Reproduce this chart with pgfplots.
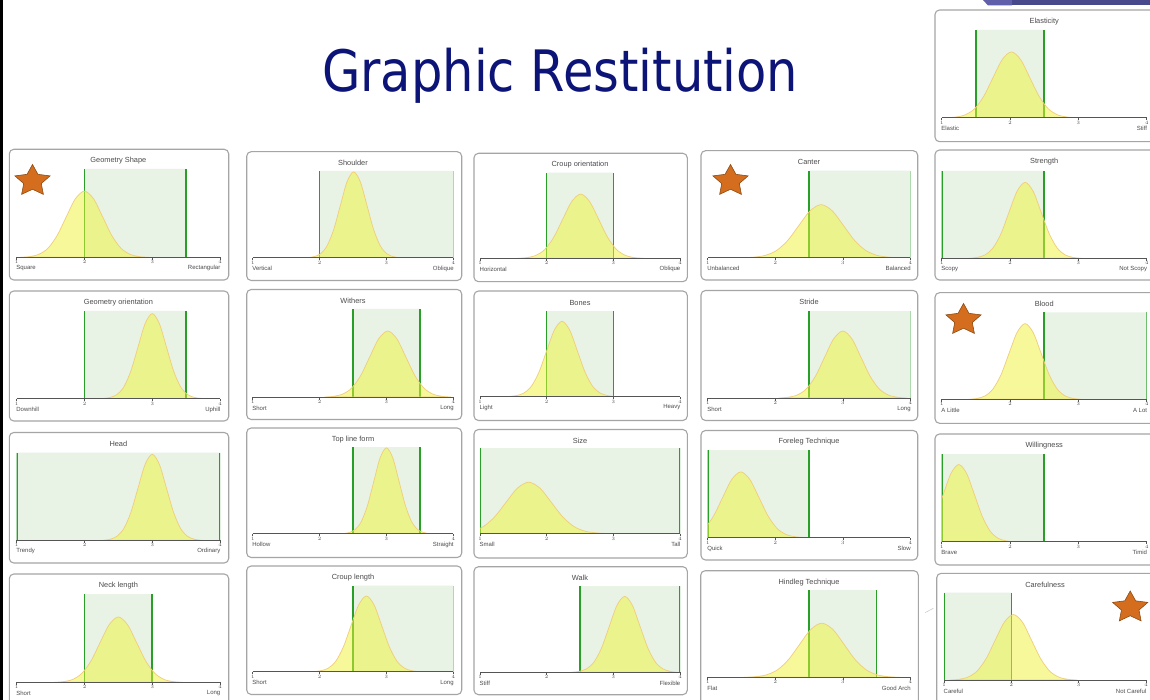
\documentclass[border=0pt]{standalone}
\usepackage{fontspec}
\setmainfont{Liberation Sans}
\newfontfamily\titlefont{DejaVu Sans}
\usepackage{graphicx}
\usepackage{pgfplots}
\pgfplotsset{compat=1.18}
\usetikzlibrary{shapes.geometric}

\definecolor{gshade}{RGB}{232,243,230}
\definecolor{gline}{RGB}{40,160,40}
\definecolor{yfill}{RGB}{239,243,53}
\definecolor{yedge}{RGB}{240,205,120}
\definecolor{navy}{RGB}{12,20,120}
\definecolor{txt}{RGB}{75,75,75}
\definecolor{axc}{RGB}{85,85,85}
\definecolor{boxc}{RGB}{165,165,165}
\definecolor{starf}{RGB}{212,110,30}
\definecolor{stard}{RGB}{140,75,20}
\definecolor{navyA}{RGB}{95,95,170}
\definecolor{navyB}{RGB}{72,72,140}

\pgfplotsset{panel/.style={scale only axis, anchor=south west,
  xmin=1, xmax=4, ymin=0, ymax=1,
  axis x line*=bottom, axis y line=none,
  xtick={1,2,3,4}, ytick=\empty,
  tick align=outside, major tick length=2.5pt,
  x axis line style={draw=axc, line width=0.9pt},
  xtick style={draw=axc, line width=0.5pt},
  xticklabel style={font=\fontsize{3.6}{4}\selectfont, text=txt, inner sep=0.6pt},
  axis on top}}

\newcommand{\band}[2]{%
  \addplot[fill=gshade, draw=none] coordinates {(#1,0) (#1,1) (#2,1) (#2,0)} \closedcycle;
  \addplot[gline, line width=1.6pt] coordinates {(#1,0) (#1,1)};
  \addplot[gline, line width=1.6pt] coordinates {(#2,0) (#2,1)};}
\newcommand{\bell}[1]{\addplot[smooth, fill=yfill, fill opacity=0.5, draw=yedge, line width=0.7pt] coordinates {#1} \closedcycle;}

\newcommand{\pframe}[4]{\draw[boxc, line width=1.1pt, rounded corners=4.5pt, fill=white] (#1,#2) rectangle (#3,#4);}
\newcommand{\plabels}[7]{%
  \node[font=\fontsize{7.4}{8}\selectfont, text=txt] at ({(#1+#2)/2},#4+11.5) {#5};
  \node[font=\fontsize{6}{7}\selectfont, text=txt, anchor=west, inner sep=0pt] at (#1-0.5,#3+11) {#6};
  \node[font=\fontsize{6}{7}\selectfont, text=txt, anchor=east, inner sep=0pt] at (#2+0.5,#3+11) {#7};}
\newcommand{\pstar}[2]{\node[star, star points=5, star point ratio=2.0, minimum size=33pt, inner sep=0pt, xscale=1.12, fill=starf, draw=stard, line width=0.6pt] at (#1,#2) {};}

\begin{document}
\begin{tikzpicture}
\path[use as bounding box] (0pt,0pt) rectangle (1150pt,-700pt);
\begin{scope}[x=1pt,y=-1pt]
\fill[white] (0,0) rectangle (1150,700);
\fill[black] (0,0) rectangle (3.2,700);
\fill[navyA] (983,0) -- (1012,0) -- (1012,5.5) -- (988,5.5) -- cycle;
\fill[navyB] (1012,0) rectangle (1150,5.5);
\node[anchor=base west, inner sep=0pt, text=navy] at (322,91.7) {\resizebox{476pt}{43.4pt}{\titlefont Graphic Restitution}};
\draw[gray!45, line width=0.5pt] (925,612.7) -- (933.3,608.3);
\pframe{9.3}{149.3}{228.7}{280}
\pframe{9.3}{291}{228.7}{421}
\pframe{9.3}{432.5}{228.7}{563}
\pframe{9.3}{574}{228.7}{710}
\pframe{246.7}{151.7}{461.7}{280.5}
\pframe{246.7}{289.5}{461.7}{419.5}
\pframe{246.7}{428}{461.7}{557.5}
\pframe{246.7}{566}{461.7}{694.5}
\pframe{474}{153.3}{687.3}{281.7}
\pframe{474}{291}{687.3}{420.5}
\pframe{474}{429.5}{687.3}{558}
\pframe{474}{566.7}{687.3}{694.7}
\pframe{701}{150.7}{917.7}{280}
\pframe{701}{290.5}{917.7}{420.5}
\pframe{701}{430.5}{917.7}{560}
\pframe{700.7}{570.7}{918.3}{710}
\pframe{935}{10}{1160}{141.7}
\pframe{935}{150}{1160}{280}
\pframe{935}{292.7}{1160}{423.3}
\pframe{935}{434}{1160}{565}
\pframe{936.7}{573.3}{1160}{710}
\end{scope}

% ---- column 1
\begin{axis}[panel, at={(16.7pt,-257.3pt)}, width=203.3pt, height=88.3pt]
\band{2}{3.5}
\bell{(1.055,0)(1.19,.008)(1.325,.033)(1.46,.101)(1.595,.244)(1.73,.455)(1.865,.662)(2.0,.75)(2.135,.662)(2.27,.455)(2.405,.244)(2.54,.101)(2.675,.033)(2.81,.008)(2.945,0)}
\end{axis}
\begin{axis}[panel, at={(16.7pt,-398.5pt)}, width=203.3pt, height=87.5pt]
\band{2}{3.5}
\bell{(2.265,0)(2.37,.011)(2.475,.043)(2.58,.131)(2.685,.315)(2.79,.588)(2.895,.856)(3.0,.97)(3.105,.856)(3.21,.588)(3.315,.315)(3.42,.131)(3.525,.043)(3.63,.011)(3.735,0)}
\end{axis}
\begin{axis}[panel, at={(16.7pt,-540.3pt)}, width=203.3pt, height=87.8pt]
\band{1}{4}
\bell{(2.265,0)(2.37,.011)(2.475,.043)(2.58,.133)(2.685,.318)(2.79,.594)(2.895,.865)(3.0,.98)(3.105,.865)(3.21,.594)(3.315,.318)(3.42,.133)(3.525,.043)(3.63,.011)(3.735,0)}
\end{axis}
\begin{axis}[panel, at={(16.7pt,-682.3pt)}, width=203.3pt, height=88.3pt]
\band{2}{3}
\bell{(1.555,0)(1.69,.008)(1.825,.032)(1.96,.100)(2.095,.240)(2.23,.449)(2.365,.653)(2.5,.74)(2.635,.653)(2.77,.449)(2.905,.240)(3.04,.100)(3.175,.032)(3.31,.008)(3.445,0)}
\end{axis}
% ---- column 2
\begin{axis}[panel, at={(252.7pt,-257.7pt)}, width=200.6pt, height=86.7pt]
\band{2}{4}
\bell{(1.81,0)(1.91,.011)(2.01,.043)(2.11,.134)(2.21,.321)(2.31,.600)(2.41,.874)(2.51,.99)(2.61,.874)(2.71,.600)(2.81,.321)(2.91,.134)(3.01,.043)(3.11,.011)(3.21,0)}
\end{axis}
\begin{axis}[panel, at={(252.7pt,-397pt)}, width=200.6pt, height=88pt]
\band{2.5}{3.5}
\bell{(2.075,0)(2.21,.008)(2.345,.033)(2.48,.101)(2.615,.244)(2.75,.455)(2.885,.662)(3.02,.75)(3.155,.662)(3.29,.455)(3.425,.244)(3.56,.101)(3.695,.033)(3.83,.008)(3.965,0)}
\end{axis}
\begin{axis}[panel, at={(252.7pt,-533.7pt)}, width=200.6pt, height=86.7pt]
\band{2.5}{3.5}
\bell{(2.335,0)(2.43,.011)(2.525,.043)(2.62,.134)(2.715,.321)(2.81,.600)(2.905,.874)(3.0,.99)(3.095,.874)(3.19,.600)(3.285,.321)(3.38,.134)(3.475,.043)(3.57,.011)(3.665,0)}
\end{axis}
\begin{axis}[panel, at={(252.7pt,-671.7pt)}, width=200.6pt, height=86pt]
\band{2.5}{4}
\bell{(1.895,0)(2.01,.010)(2.125,.039)(2.24,.119)(2.355,.286)(2.47,.534)(2.585,.777)(2.7,.88)(2.815,.777)(2.93,.534)(3.045,.286)(3.16,.119)(3.275,.039)(3.39,.010)(3.505,0)}
\end{axis}
% ---- column 3
\begin{axis}[panel, at={(480pt,-258.3pt)}, width=200pt, height=85.6pt]
\band{2}{3}
\bell{(1.565,0)(1.70,.008)(1.835,.033)(1.97,.101)(2.105,.244)(2.24,.455)(2.375,.662)(2.51,.75)(2.645,.662)(2.78,.455)(2.915,.244)(3.05,.101)(3.185,.033)(3.32,.008)(3.455,0)}
\end{axis}
\begin{axis}[panel, at={(480pt,-396.5pt)}, width=200pt, height=85.5pt]
\band{2}{3}
\bell{(1.425,0)(1.54,.010)(1.655,.039)(1.77,.119)(1.885,.286)(2.0,.534)(2.115,.777)(2.23,.88)(2.345,.777)(2.46,.534)(2.575,.286)(2.69,.119)(2.805,.039)(2.92,.010)(3.035,0)}
\end{axis}
\begin{axis}[panel, at={(480pt,-533.5pt)}, width=200pt, height=85.5pt]
\band{1}{4}
\bell{(0.54,0)(0.71,.007)(0.88,.026)(1.05,.081)(1.22,.195)(1.39,.364)(1.56,.530)(1.73,.60)(1.90,.530)(2.07,.364)(2.24,.195)(2.41,.081)(2.58,.026)(2.75,.007)(2.92,0)}
\end{axis}
\begin{axis}[panel, at={(480pt,-672.3pt)}, width=200pt, height=86.3pt]
\band{2.5}{4}
\bell{(2.365,0)(2.48,.010)(2.595,.039)(2.71,.119)(2.825,.286)(2.94,.534)(3.055,.777)(3.17,.88)(3.285,.777)(3.40,.534)(3.515,.286)(3.63,.119)(3.745,.039)(3.86,.010)(3.975,0)}
\end{axis}
% ---- column 4
\begin{axis}[panel, at={(707.7pt,-257.7pt)}, width=202.6pt, height=87pt]
\band{2.5}{4}
\bell{(1.525,0)(1.69,.007)(1.855,.027)(2.02,.083)(2.185,.198)(2.35,.370)(2.515,.538)(2.68,.61)(2.845,.538)(3.01,.370)(3.175,.198)(3.34,.083)(3.505,.027)(3.67,.007)(3.835,0)}
\end{axis}
\begin{axis}[panel, at={(707.7pt,-398pt)}, width=202.6pt, height=87pt]
\band{2.5}{4}
\bell{(2.055,0)(2.19,.009)(2.325,.034)(2.46,.104)(2.595,.250)(2.73,.467)(2.865,.680)(3.0,.77)(3.135,.680)(3.27,.467)(3.405,.250)(3.54,.104)(3.675,.034)(3.81,.009)(3.945,0)}
\end{axis}
\begin{axis}[panel, at={(707.7pt,-537.5pt)}, width=202.6pt, height=87.5pt]
\band{1}{2.5}
\bell{(0.545,0)(0.68,.008)(0.815,.033)(0.95,.101)(1.085,.244)(1.22,.455)(1.355,.662)(1.49,.75)(1.625,.662)(1.76,.455)(1.895,.244)(2.03,.101)(2.165,.033)(2.30,.008)(2.435,0)}
\end{axis}
\begin{axis}[panel, at={(707.7pt,-677.3pt)}, width=202.6pt, height=87.3pt]
\band{2.5}{3.5}
\bell{(1.535,0)(1.70,.007)(1.865,.027)(2.03,.084)(2.195,.201)(2.36,.376)(2.525,.547)(2.69,.62)(2.855,.547)(3.02,.376)(3.185,.201)(3.35,.084)(3.515,.027)(3.68,.007)(3.845,0)}
\end{axis}
% ---- column 5
\begin{axis}[panel, at={(941.7pt,-117.7pt)}, width=205pt, height=87.7pt]
\band{1.5}{2.5}
\bell{(1.075,0)(1.21,.008)(1.345,.033)(1.48,.101)(1.615,.244)(1.75,.455)(1.885,.662)(2.02,.75)(2.155,.662)(2.29,.455)(2.425,.244)(2.56,.101)(2.695,.033)(2.83,.008)(2.965,0)}
\end{axis}
\begin{axis}[panel, at={(941.7pt,-258.3pt)}, width=205pt, height=87.3pt]
\band{1}{2.5}
\bell{(1.398,0)(1.515,.010)(1.633,.038)(1.75,.118)(1.868,.282)(1.985,.528)(2.103,.768)(2.22,.87)(2.338,.768)(2.455,.528)(2.573,.282)(2.69,.118)(2.808,.038)(2.925,.010)(3.043,0)}
\end{axis}
\begin{axis}[panel, at={(941.7pt,-399.3pt)}, width=205pt, height=87pt]
\band{2.5}{4}
\bell{(1.398,0)(1.515,.010)(1.633,.038)(1.75,.118)(1.868,.282)(1.985,.528)(2.103,.768)(2.22,.87)(2.338,.768)(2.455,.528)(2.573,.282)(2.69,.118)(2.808,.038)(2.925,.010)(3.043,0)}
\end{axis}
\begin{axis}[panel, at={(941.7pt,-541.7pt)}, width=205pt, height=87.7pt]
\band{1}{2.5}
\bell{(0.445,0)(0.56,.010)(0.675,.039)(0.79,.119)(0.905,.286)(1.02,.534)(1.135,.777)(1.25,.88)(1.365,.777)(1.48,.534)(1.595,.286)(1.71,.119)(1.825,.039)(1.94,.010)(2.055,0)}
\end{axis}
\begin{axis}[panel, at={(944pt,-680pt)}, width=202pt, height=87.3pt]
\band{1}{2}
\bell{(1.085,0)(1.22,.008)(1.355,.033)(1.49,.101)(1.625,.244)(1.76,.455)(1.895,.662)(2.03,.75)(2.165,.662)(2.30,.455)(2.435,.244)(2.57,.101)(2.705,.033)(2.84,.008)(2.975,0)}
\end{axis}

\begin{scope}[x=1pt,y=-1pt]
\plabels{16.7}{220}{257.3}{149.3}{Geometry Shape}{Square}{Rectangular}
\plabels{16.7}{220}{398.5}{291}{Geometry orientation}{Downhill}{Uphill}
\plabels{16.7}{220}{540.3}{432.5}{Head}{Trendy}{Ordinary}
\plabels{16.7}{220}{682.3}{574}{Neck length}{Short}{Long}
\plabels{252.7}{453.3}{257.7}{151.7}{Shoulder}{Vertical}{Oblique}
\plabels{252.7}{453.3}{397}{289.5}{Withers}{Short}{Long}
\plabels{252.7}{453.3}{533.7}{428}{Top line form}{Hollow}{Straight}
\plabels{252.7}{453.3}{671.7}{566}{Croup length}{Short}{Long}
\plabels{480}{680}{258.3}{153.3}{Croup orientation}{Horizontal}{Oblique}
\plabels{480}{680}{396.5}{291}{Bones}{Light}{Heavy}
\plabels{480}{680}{533.5}{429.5}{Size}{Small}{Tall}
\plabels{480}{680}{672.3}{566.7}{Walk}{Stiff}{Flexible}
\plabels{707.7}{910.3}{257.7}{150.7}{Canter}{Unbalanced}{Balanced}
\plabels{707.7}{910.3}{398}{290.5}{Stride}{Short}{Long}
\plabels{707.7}{910.3}{537.5}{430.5}{Foreleg Technique}{Quick}{Slow}
\plabels{707.7}{910.3}{677.3}{570.7}{Hindleg Technique}{Flat}{Good Arch}
\plabels{941.7}{1146.7}{117.7}{10}{Elasticity}{Elastic}{Stiff}
\plabels{941.7}{1146.7}{258.3}{150}{Strength}{Scopy}{Not Scopy}
\plabels{941.7}{1146.7}{399.3}{292.7}{Blood}{A Little}{A Lot}
\plabels{941.7}{1146.7}{541.7}{434}{Willingness}{Brave}{Timid}
\plabels{944}{1146}{680}{573.3}{Carefulness}{Careful}{Not Careful}
\pstar{32.5}{181}
\pstar{730.5}{181}
\pstar{963.5}{320}
\pstar{1130.2}{607.5}
\end{scope}
\end{tikzpicture}
\end{document}
